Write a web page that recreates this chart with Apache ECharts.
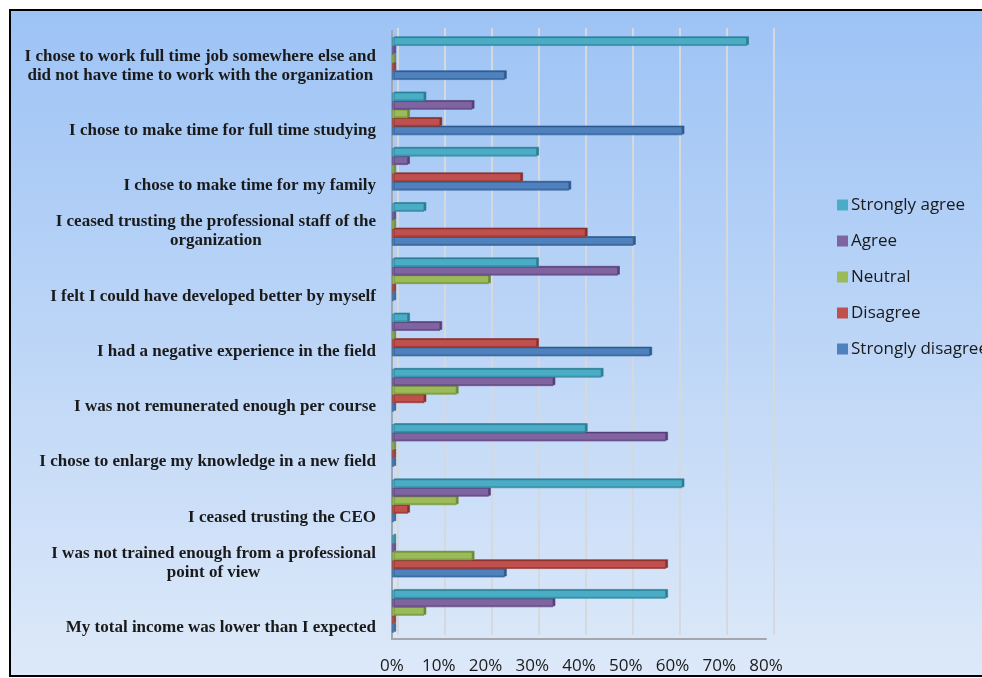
<!DOCTYPE html>
<html>
<head>
<meta charset="utf-8">
<script src="https://cdn.jsdelivr.net/npm/echarts@6/dist/echarts.min.js"></script>
<style>
  html, body { margin: 0; padding: 0; background: #ffffff; }
  #chart { width: 982px; height: 678px; }
</style>
</head>
<body>
<div id="chart"></div>
<script>
// Categories listed bottom to top (ECharts category y axis starts at the bottom)
const categories = [
  'My total income was lower than I expected',
  'I was not trained enough from a professional\npoint of view',
  'I ceased trusting the CEO',
  'I chose to enlarge my knowledge in a new field',
  'I was not remunerated enough per course',
  'I had a negative experience in the field',
  'I felt I could have developed better by myself',
  'I ceased trusting the professional staff of the\norganization',
  'I chose to make time for my family',
  'I chose to make time for full time studying',
  'I chose to work full time job somewhere else and\ndid not have time to work with the organization'
];

// Percentages (same order as categories)
const stronglyAgree    = [58.6, 0,    62.1, 41.4, 44.8, 3.4,  31.0, 6.9,  31.0, 6.9,  75.9];
const agree            = [34.5, 0,    20.7, 58.6, 34.5, 10.3, 48.3, 0,    3.4,  17.2, 0];
const neutral          = [6.9,  17.2, 13.8, 0,    13.8, 0,    20.7, 0,    0,    3.4,  0];
const disagree         = [0,    58.6, 3.4,  0,    6.9,  31.0, 0,    41.4, 27.6, 10.3, 0];
const stronglyDisagree = [0,    24.1, 0,    0,    0,    55.2, 0,    51.7, 37.9, 62.1, 24.1];

const xTicks = [0, 10, 20, 30, 40, 50, 60, 70, 80];

// Series 0 is drawn at the top of each group
const seriesDefs = [
  { name: 'Strongly agree',    data: stronglyAgree,    color: '#4BACC6', dark: '#2A7D94' },
  { name: 'Agree',             data: agree,            color: '#8064A2', dark: '#573F78' },
  { name: 'Neutral',           data: neutral,          color: '#9BBB59', dark: '#6B8A32' },
  { name: 'Disagree',          data: disagree,         color: '#C0504D', dark: '#8A2F2C' },
  { name: 'Strongly disagree', data: stronglyDisagree, color: '#4F81BD', dark: '#2E5A8E' }
];

const chart = echarts.init(document.getElementById('chart'), null, { renderer: 'canvas' });

const labelFont = '"Liberation Serif", "Times New Roman", serif';
const sansFont = '"Open Sans", "Liberation Sans", sans-serif';

const option = {
  animation: false,
  graphic: [{
    type: 'rect',
    z: -10,
    silent: true,
    shape: { x: 10, y: 10, width: 990, height: 666 },
    style: {
      fill: new echarts.graphic.LinearGradient(0, 0, 0, 1, [
        { offset: 0, color: '#9DC3F5' },
        { offset: 1, color: '#DDE9F9' }
      ]),
      stroke: '#000000',
      lineWidth: 2
    }
  }],
  legend: {
    orient: 'vertical',
    left: 832,
    top: 191,
    itemWidth: 11,
    itemHeight: 11,
    itemGap: 18,
    icon: 'rect',
    itemStyle: { borderWidth: 0, shadowBlur: 0, shadowOffsetX: 0, shadowOffsetY: 0, shadowColor: 'transparent' },
    data: ['Strongly agree', 'Agree', 'Neutral', 'Disagree', 'Strongly disagree'],
    textStyle: { fontFamily: sansFont, fontSize: 17, color: '#1a1a1a', lineHeight: 18, padding: [0, 0, 0, -2] }
  },
  grid: [
    { left: 392, right: 216, top: 31, bottom: 39 },     // bars
    { left: 398, right: 208, top: 28, bottom: 43 },     // back-wall gridlines
    { left: 392, right: 216, top: 57, bottom: 13 }      // category labels
  ],
  xAxis: [
    {
      gridIndex: 0, type: 'value', min: xTicks[0], max: xTicks[xTicks.length - 1], interval: 10,
      axisLine: { show: true, lineStyle: { color: '#A3A7AC', width: 2 } },
      axisTick: { show: false },
      splitLine: { show: false },
      axisLabel: { formatter: '{value}%', fontFamily: sansFont, fontSize: 17, color: '#1a1a1a', margin: 19 }
    },
    {
      gridIndex: 1, type: 'value', min: xTicks[0], max: xTicks[xTicks.length - 1], interval: 10,
      axisLine: { show: false }, axisTick: { show: false }, axisLabel: { show: false },
      splitLine: { show: true, lineStyle: { color: '#D5D9DE', width: 2 } }
    },
    {
      gridIndex: 2, type: 'value', min: 0, max: 80, show: false
    }
  ],
  yAxis: [
    {
      gridIndex: 0, type: 'category', data: categories,
      axisLine: { show: true, lineStyle: { color: '#A3A7AC', width: 2 } },
      axisTick: { show: false }, axisLabel: { show: false }
    },
    {
      gridIndex: 1, type: 'category', data: categories, show: false
    },
    {
      gridIndex: 2, type: 'category', data: categories,
      axisLine: { show: false }, axisTick: { show: false }, splitLine: { show: false },
      axisLabel: {
        margin: 16,
        verticalAlign: 'bottom',
        align: 'right',
        formatter: function (v) {
          return v.split('\n').map(function (l) { return '{c|' + l + '}'; }).join('\n');
        },
        rich: {
          c: { align: 'center', fontFamily: labelFont, fontWeight: 'bold', fontSize: 17, lineHeight: 19, color: '#1a1a1a' }
        }
      }
    }
  ],
  series: seriesDefs.map(function (s, i) {
    return {
      name: s.name,
      type: 'bar',
      xAxisIndex: 0,
      yAxisIndex: 0,
      z: 10 - i,
      data: s.data,
      barWidth: 8.5,
      barGap: '0%',
      barMinHeight: 2,
      itemStyle: {
        color: s.color,
        borderColor: s.dark,
        borderWidth: 0.6,
        shadowColor: s.dark,
        shadowBlur: 0,
        shadowOffsetX: 2,
        shadowOffsetY: -1
      }
    };
  })
};

chart.setOption(option);
</script>
</body>
</html>
